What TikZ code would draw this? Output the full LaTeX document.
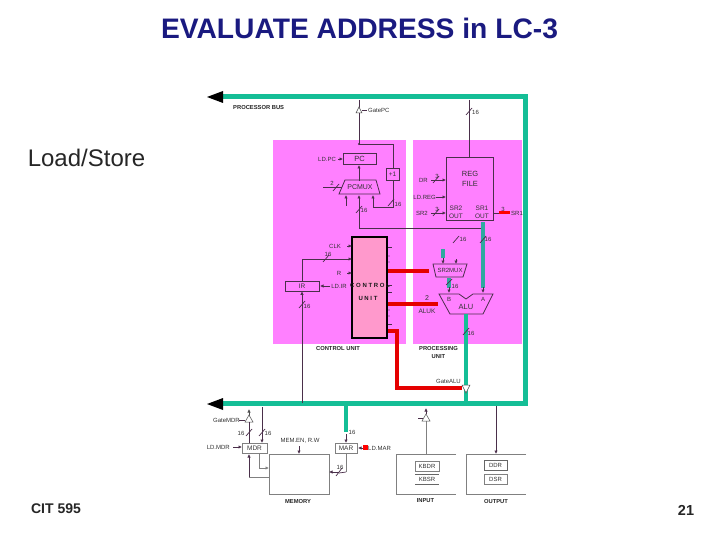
\documentclass[tikz,border=0pt]{standalone}
\usepackage{fontspec}
\setmainfont{Liberation Sans}
\usetikzlibrary{arrows.meta}
\definecolor{busgreen}{HTML}{14BE96}
\definecolor{pinkbg}{HTML}{FF80FF}
\definecolor{cubox}{HTML}{FF99CC}
\definecolor{wire}{HTML}{4A2F4A}
\definecolor{tealb}{HTML}{2FA8A0}
\definecolor{titleblue}{HTML}{1A1A80}
\tikzset{
 bus/.style={draw=busgreen,line width=5pt},
 thickteal/.style={draw=tealb,line width=4pt},
 redl/.style={draw=red!90!black,line width=4pt},
 wirel/.style={draw=wire,line width=0.7pt},
 wa/.style={wirel,-{Latex[length=3.5pt,width=3.5pt]}},
 tiny1/.style={font=\fontsize{6}{6.5}\selectfont,text=black!80,inner sep=0pt},
 lab/.style={font=\fontsize{5.8}{6.5}\selectfont\bfseries,text=black!85,inner sep=0pt,align=center},
 reg/.style={draw=wire,fill=none,line width=0.7pt,inner sep=0pt,font=\fontsize{6.5}{6.5}\selectfont,text=black!80},
 ioreg/.style={draw=gray,line width=0.7pt,inner sep=0pt,font=\fontsize{6}{6}\selectfont,text=black!80},
 gate/.style={draw=black!70,fill=white,line width=0.5pt},
 ptitle/.style={font=\fontsize{28.2}{30}\selectfont\bfseries,text=titleblue,inner sep=0pt},
}
\begin{document}
\begin{tikzpicture}[x=1pt,y=-1pt]
\useasboundingbox (0,0) rectangle (720,540);
\fill[white] (0,0) rectangle (720,540);
% texts
\node[ptitle] (title) at (359.5,28) {EVALUATE ADDRESS in LC-3};
\node[font=\fontsize{24}{26}\selectfont,inner sep=0pt,text=black!85] (ls) at (86.5,157.5) {Load/Store};
\node[font=\fontsize{14}{16}\selectfont\bfseries,inner sep=0pt,text=black!85] (cit) at (56,509) {CIT 595};
\node[font=\fontsize{14.5}{16}\selectfont\bfseries,inner sep=0pt,text=black!85] (pg) at (686,510) {21};
% pink panels
\fill[pinkbg] (273,140) rectangle (406,344);
\fill[pinkbg] (413,140) rectangle (522,344);
% buses
\draw[bus] (222,97) -- (525,97) -- (525,403.5) -- (222,403.5);
\fill[black] (207,97) -- (223,91) -- (223,103) -- cycle;
\fill[black] (207,404) -- (223,398) -- (223,410) -- cycle;
\node[lab,anchor=west] (pbus) at (233,108) {PROCESSOR BUS};
% PC side
\draw[wirel] (359,100) -- (359,144) -- (393,144) -- (393,168);
\fill[wire] (359,144) circle (1.2pt);
\draw[gate] (356,113) -- (362,113) -- (359,107) -- cycle;
\draw[wirel] (362,110) -- (367,110);
\node[tiny1,anchor=west] (gatepc) at (368,110) {GatePC};
\draw[wirel] (469,100) -- (469,157);
\draw[wirel] (466,115) -- (472,108);
\node[tiny1,anchor=west] at (472,112) {16};
\node[reg,minimum width=33pt,minimum height=11pt] (pc) at (359.5,158.5) {\fontsize{7.5}{7.5}\selectfont PC};
\node[tiny1] (ldpc) at (327,159) {LD.PC};
\draw[wa] (338,159) -- (343,159);
\node[reg,minimum width=13pt,minimum height=12pt] (plus) at (392.5,174) {+1};
\draw[wirel] (393,180) -- (393,207) -- (373,207);
\draw[wa] (373,207) -- (373,195);
\draw[wirel] (388,206) -- (394,199);
\node[tiny1] at (398,204) {16};
\draw[wa] (359,181) -- (359,165);
\draw[wirel,line width=0.8pt] (345,180) -- (376,180) -- (380,194) -- (339,194) -- cycle;
\node[font=\fontsize{7}{7}\selectfont,inner sep=0pt,text=black!80] (pcmux) at (360,187) {PCMUX};
\draw[wirel] (323,187) -- (342,187);
\draw[wirel] (333,191) -- (339,184);
\node[tiny1] at (332,183) {2};
\draw[wa,line width=1pt] (346,206) -- (346,195);
\draw[wa] (359,228) -- (359,195);
\draw[wirel] (356,213) -- (362,206);
\node[tiny1] at (364,210) {16};
\draw[wirel] (359,228) -- (483,228);
% Reg file
\node[reg,minimum width=47pt,minimum height=63pt] (rf) at (469.5,188.5) {};
\node[font=\fontsize{7.5}{8.5}\selectfont,align=center,inner sep=0pt,text=black!80] at (470,179) {REG\\[1pt]FILE};
\node[font=\fontsize{6.5}{7.5}\selectfont,align=center,inner sep=0pt,text=black!80] at (456,212.5) {SR2\\OUT};
\node[font=\fontsize{6.5}{7.5}\selectfont,align=center,inner sep=0pt,text=black!80] at (482,212.5) {SR1\\OUT};
\node[tiny1,anchor=east] (dr) at (428,180) {DR};
\draw[wa] (431,180) -- (446,180);
\draw[wirel] (433,183) -- (439,176);
\node[tiny1] at (437,176) {3};
\node[tiny1,anchor=east] (ldreg) at (436,197) {LD.REG};
\draw[wa] (436,197) -- (446,197);
\node[tiny1,anchor=east] (sr2) at (428,213) {SR2};
\draw[wa] (431,213) -- (446,213);
\draw[wirel] (433,216) -- (439,209);
\node[tiny1] at (437,209) {3};
\draw[wirel] (494,213) -- (499,213);
\draw[red,line width=3pt] (499,213) -- (510,213);
\node[tiny1,anchor=west] (sr1) at (511,213) {SR1};
\node[tiny1] at (503,209) {3};
% teal paths
\draw[thickteal] (483,222) -- (483,288);
\draw[thickteal] (443,249) -- (443,258);
\draw[thickteal] (449,278) -- (449,288);
\draw[wa] (483,287) -- (483,293);
\draw[wa] (449,287) -- (449,293);
\draw[wa] (456,259) -- (456,264);
\draw[wa] (443,258) -- (443,264);
\draw[wirel] (453,243) -- (459,236);
\node[tiny1] at (463,239) {16};
\draw[wirel] (480,243) -- (486,236);
\node[tiny1] at (488,239) {16};
\draw[wirel] (446,285) -- (452,279);
\node[tiny1] at (455,286) {16};
% SR2MUX
\draw[wirel,line width=0.8pt] (433,264) -- (467,264) -- (463,277) -- (436,277) -- cycle;
\node[tiny1] (srm) at (450,270.5) {SR2MUX};
% ALU
\draw[wirel,line width=0.8pt] (439,294) -- (459,294) -- (466,299) -- (473,294) -- (493,294) -- (483,314) -- (450,314) -- cycle;
\node[font=\fontsize{7.5}{8}\selectfont,inner sep=0pt,text=black!80] (alu) at (466,307) {ALU};
\node[tiny1] at (449,299) {B};
\node[tiny1] at (483,299) {A};
\node[font=\fontsize{6.5}{7}\selectfont,inner sep=0pt,text=black!80] (aluk) at (427,311) {ALUK};
\node[font=\fontsize{7}{7}\selectfont,inner sep=0pt,text=black!80] at (427,298) {2};
\draw[bus,line width=4pt] (466,314) -- (466,404);
\draw[wirel] (463,335) -- (469,328);
\node[tiny1] at (471,333) {16};
% Control unit
\node[draw=black,fill=cubox,line width=1.3pt,minimum width=35pt,minimum height=101pt,inner sep=0pt] (cu) at (369.5,287.5) {};
\node[font=\fontsize{6}{7}\selectfont\bfseries,inner sep=0pt,text=black!90] at (370,285) {C O N T R O L};
\node[font=\fontsize{6}{7}\selectfont\bfseries,inner sep=0pt,text=black!90] at (368,298) {U N I T};
\draw[redl] (388,271) -- (429,271);
\draw[redl] (388,304) -- (438,304);
\draw[redl] (388,331) -- (397,331) -- (397,388) -- (462,388);
\draw[gate] (462,385) -- (470,385) -- (466,393) -- cycle;
\node[tiny1,anchor=east] (galu) at (461,381) {GateALU};
\node[tiny1] (clk) at (335,246) {CLK};
\draw[wa] (347,246) -- (352,246);
\node[tiny1] (rr) at (339,273) {R};
\draw[wa] (347,273) -- (352,273);
\draw[wa] (302,259) -- (352,259);
\draw[wirel] (323,262) -- (329,255);
\node[tiny1] at (328,254) {16};
\foreach \y in {247,285,292,324} \draw[wirel] (388,\y) -- (392,\y);
\foreach \y in {256,262,310,316} \fill[wire] (389,\y) circle (0.7pt);
% IR
\node[reg,minimum width=34pt,minimum height=10pt] (ir) at (302,286) {IR};
\draw[wirel] (302,259) -- (ir.north);
\draw[wa] (302,403) -- (ir.south);
\draw[wirel] (299,308) -- (305,301);
\node[tiny1] at (307,306) {16};
\node[tiny1] (ldir) at (339,286) {LD.IR};
\draw[wa] (330,286) -- (320,286);
\node[lab] (cul) at (338,349) {CONTROL UNIT};
\node[lab] (pul) at (438.5,352.5) {PROCESSING\\[1pt]UNIT};
% Bottom
\node[reg,draw=gray,minimum width=25pt,minimum height=10pt] (mdr) at (254.5,448) {MDR};
\node[reg,draw=gray,minimum width=22pt,minimum height=10pt] (mar) at (346,448) {MAR};
\draw[gray,line width=0.6pt] (269,454) rectangle (329,494);
\node[lab] (meml) at (298,501) {MEMORY};
\node[tiny1] (memen) at (300,441) {MEM.EN, R.W};
\draw[wa] (299,446) -- (299,454);
\draw[wa,draw=black!70] (249,432) -- (249,409);
\draw[gate] (245,422) -- (253,422) -- (249,415) -- cycle;
\draw[wirel] (239,420) -- (245,420);
\node[tiny1,anchor=east] (gmdr) at (240,420) {GateMDR};
\draw[wirel] (249,443) -- (249,422);
\draw[wa] (262,407) -- (262,443);
\node[tiny1] (n16a) at (241,433) {16};
\node[tiny1] (n16b) at (268,433) {16};
\draw[wirel] (246,436) -- (252,429);
\draw[wirel] (259,436) -- (265,429);
\node[tiny1,anchor=east] (ldmdr) at (230,447) {LD.MDR};
\draw[wa] (233,447) -- (242,447);
\draw[wa] (249,477) -- (249,454);
\draw[gray,line width=0.5pt] (249,477) -- (269,477);
\draw[wa,draw=gray] (259,454) -- (259,468) -- (269,468);
\draw[bus,line width=4pt] (346,404) -- (346,432);
\draw[wa] (346,434) -- (346,443);
\node[tiny1] (n15) at (352,432) {16};
\draw[gray,line width=0.4pt] (346,453) -- (346,472);
\draw[wa] (339,472) -- (329,472);
\draw[wirel] (339,473) -- (346,472);
\draw[wirel] (336,476) -- (342,468);
\node[tiny1] at (340,467) {16};
\draw[fill=red,draw=none] (363,445) rectangle (368,450);
\draw[wa] (363,448) -- (358,448);
\node[tiny1,anchor=west] (ldmar) at (368,448) {LD.MAR};
% I/O
\draw[gray,line width=0.7pt] (456,454) -- (396,454) -- (396,494) -- (456,494);
\draw[gray,line width=0.7pt] (526,454) -- (466,454) -- (466,494) -- (526,494);
\node[ioreg,minimum width=24pt,minimum height=10pt] (kbdr) at (427,466) {KBDR};
\node[ioreg,minimum width=24pt,minimum height=10pt,draw=none] (kbsr) at (427,479) {KBSR};
\draw[black!60,line width=0.7pt] (415,474) -- (439,474);
\draw[black!60,line width=0.7pt] (415,484) -- (439,484);
\node[ioreg,draw=black!60,minimum width=23pt,minimum height=10pt] (ddr) at (495.5,465) {DDR};
\node[ioreg,minimum width=23pt,minimum height=10pt] (dsr) at (495.5,479) {DSR};
\node[lab] (inl) at (425.5,501) {INPUT};
\node[lab] (outl) at (496,501) {OUTPUT};
\draw[draw=gray,line width=1pt] (426,454) -- (426,421);
\draw[gate] (422,421) -- (430,421) -- (426,414) -- cycle;
\draw[wirel] (418,418) -- (423,418);
\draw[wa] (426,414) -- (426,408);
\draw[wa] (496,406) -- (496,454);
\end{tikzpicture}
\end{document}
